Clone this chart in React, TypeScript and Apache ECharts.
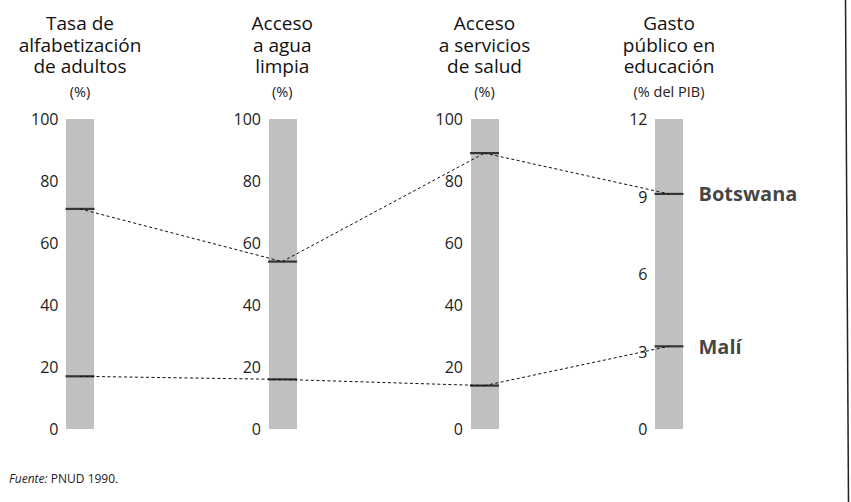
import React, { useEffect, useRef } from "react";
import * as echarts from "echarts";

const axisTitles = [
  "Tasa de\nalfabetización\nde adultos",
  "Acceso\na agua\nlimpia",
  "Acceso\na servicios\nde salud",
  "Gasto\npúblico en\neducación",
];
const axisUnits = ["(%)", "(%)", "(%)", "(% del PIB)"];
const axisMax = [100, 100, 100, 12];
const axisInterval = [20, 20, 20, 3];
const countries = ["Botswana", "Malí"];
const botswana = [71, 54, 89, 9.1];
const mali = [17, 16, 14, 3.2];
const source = "PNUD 1990.";

const FONT = "'Open Sans', 'Noto Sans', sans-serif";
const AXIS_X = [80, 282.5, 484.5, 669];
const TOP = 119;
const BOTTOM = 73;
const W = 851;
const H = 502;
const BAR_W = 28;

export default function App() {
  const ref = useRef<HTMLDivElement>(null);
  useEffect(() => {
    if (!ref.current) return;
    const chart = echarts.init(ref.current, undefined, { renderer: "svg" });
    const rows = [botswana, mali];

    const axisBase = (i: number, show: boolean) => ({
      type: "value" as const,
      min: 0,
      max: axisMax[i],
      interval: axisInterval[i],
      name: show ? `{t|${axisTitles[i]}}\n{u|${axisUnits[i]}}` : "",
      nameLocation: "end" as const,
      nameGap: 14,
      nameTextStyle: {
        rich: {
          t: { fontSize: 19, lineHeight: 21.5, color: "#111", fontFamily: FONT, align: "center" },
          u: { fontSize: 14.5, lineHeight: 28, color: "#222", fontFamily: FONT, align: "center" },
        },
      },
      axisLine: { show, lineStyle: { color: "#c0c0c0", width: BAR_W, cap: "butt" } },
      axisTick: { show: false },
      splitLine: { show: false },
      axisLabel: { show: false, formatter: () => "" },
      triggerEvent: false,
    });

    const parallelAxis: any[] = [];
    [0, 1, 2].forEach((i, k) => parallelAxis.push({ ...axisBase(i, true), dim: k, parallelIndex: 0 }));
    parallelAxis.push({ ...axisBase(2, false), dim: 0, parallelIndex: 1 });
    parallelAxis.push({ ...axisBase(3, true), dim: 1, parallelIndex: 1 });

    const grids = AXIS_X.map((c) => ({
      left: c - BAR_W / 2 - 0.5,
      width: BAR_W + 1,
      top: TOP,
      bottom: BOTTOM,
      show: false,
    }));

    const lineStyle = { color: "#111", width: 1, type: [3, 2.5] as any, opacity: 1 };

    const option: any = {
      animation: false,
      backgroundColor: "#fff",
      parallel: [
        { left: AXIS_X[0], right: W - AXIS_X[2], top: TOP, bottom: BOTTOM, layout: "horizontal" },
        { left: AXIS_X[2], right: W - AXIS_X[3], top: TOP, bottom: BOTTOM, layout: "horizontal" },
      ],
      parallelAxis,
      grid: grids,
      xAxis: AXIS_X.map((_, i) => ({ type: "category", data: [axisTitles[i]], gridIndex: i, show: false })),
      yAxis: AXIS_X.map((_, i) => ({
        type: "value",
        gridIndex: i,
        min: 0,
        max: axisMax[i],
        interval: axisInterval[i],
        position: "left",
        axisLine: { show: false },
        axisTick: { show: false },
        splitLine: { show: false },
        axisLabel: { margin: 7, color: "#222", fontSize: 16, fontFamily: FONT },
      })),
      series: [
        {
          type: "parallel",
          parallelIndex: 0,
          lineStyle,
          z: 20,
          data: rows.map((r) => r.slice(0, 3)),
        },
        {
          type: "parallel",
          parallelIndex: 1,
          lineStyle,
          z: 20,
          data: rows.map((r) => r.slice(2, 4)),
        },
        ...AXIS_X.map((_, i) => ({
          type: "scatter",
          xAxisIndex: i,
          yAxisIndex: i,
          symbol: "rect",
          symbolSize: [BAR_W + 1, 2.2],
          itemStyle: { color: "#111" },
          z: 100,
          zlevel: 1,
          data: rows.map((r, k) => ({ name: countries[k], value: [0, r[i]] })),
          label:
            i === 3
              ? {
                  show: true,
                  position: "right",
                  distance: 15,
                  formatter: "{b}",
                  fontSize: 20,
                  fontWeight: "bold",
                  color: "#111",
                  fontFamily: FONT,
                }
              : { show: false },
        })),
      ],
      graphic: [
        {
          type: "text",
          left: 9,
          top: 472,
          style: {
            text: "{i|Fuente:} {n|" + source + "}",
            rich: {
              i: { fontStyle: "italic", fontSize: 12, fontFamily: FONT, fill: "#222" },
              n: { fontSize: 12, fontFamily: FONT, fill: "#222" },
            },
          },
        },
        {
          type: "line",
          shape: { x1: 845.5, y1: 0, x2: 848.5, y2: H },
          style: { stroke: "#222", lineWidth: 1.5 },
        },
      ],
    };
    chart.setOption(option);
    return () => chart.dispose();
  }, []);
  return (
    <div
      ref={ref}
      style={{ position: "fixed", left: 0, top: 0, width: W, height: H, background: "#fff" }}
    />
  );
}
